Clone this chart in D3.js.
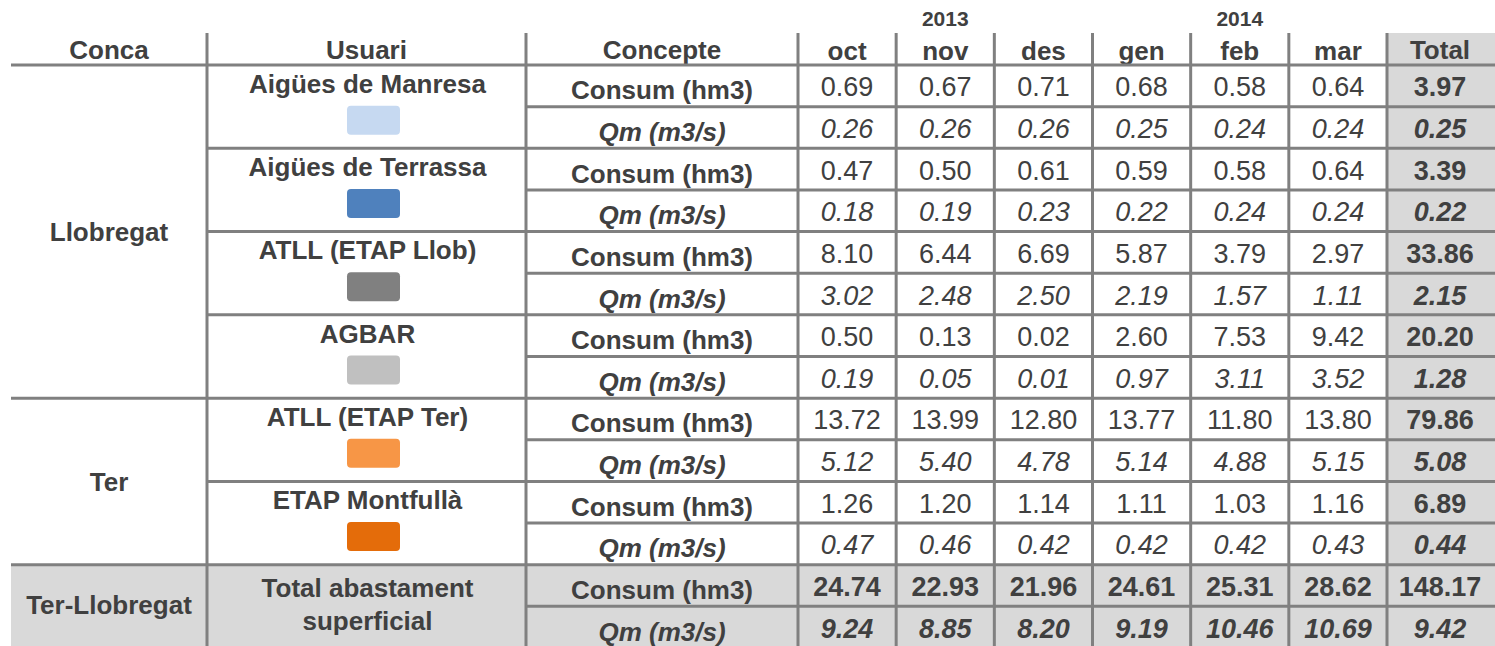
<!DOCTYPE html>
<html>
<head>
<meta charset="utf-8">
<script src="https://cdn.jsdelivr.net/npm/d3@7"></script>
<style>
  html, body { margin: 0; padding: 0; background: #ffffff; }
  svg { display: block; }
  text { font-family: "Liberation Sans", Arial, sans-serif; fill: #404040; }
</style>
</head>
<body>
<svg id="chart" width="1495" height="646"></svg>
<script>
// ---------- DATA ----------
const months = ["oct", "nov", "des", "gen", "feb", "mar"];
const years = [{ label: "2013", month: "nov" }, { label: "2014", month: "feb" }];
const conques = ["Llobregat", "Ter"];
const conquaUsers = [4, 2];
const usuaris = ["Aigües de Manresa", "Aigües de Terrassa", "ATLL (ETAP Llob)", "AGBAR", "ATLL (ETAP Ter)", "ETAP Montfullà"];
const usuariColors = ["#c6d9f1", "#4f81bd", "#808080", "#c0c0c0", "#f79646", "#e46c0a"];
const conceptes = ["Consum (hm3)", "Qm (m3/s)"];

const consum = [
  [0.69, 0.67, 0.71, 0.68, 0.58, 0.64],
  [0.47, 0.50, 0.61, 0.59, 0.58, 0.64],
  [8.10, 6.44, 6.69, 5.87, 3.79, 2.97],
  [0.50, 0.13, 0.02, 2.60, 7.53, 9.42],
  [13.72, 13.99, 12.80, 13.77, 11.80, 13.80],
  [1.26, 1.20, 1.14, 1.11, 1.03, 1.16]
];
const consumTotal = [3.97, 3.39, 33.86, 20.20, 79.86, 6.89];
const qm = [
  [0.26, 0.26, 0.26, 0.25, 0.24, 0.24],
  [0.18, 0.19, 0.23, 0.22, 0.24, 0.24],
  [3.02, 2.48, 2.50, 2.19, 1.57, 1.11],
  [0.19, 0.05, 0.01, 0.97, 3.11, 3.52],
  [5.12, 5.40, 4.78, 5.14, 4.88, 5.15],
  [0.47, 0.46, 0.42, 0.42, 0.42, 0.43]
];
const qmTotal = [0.25, 0.22, 2.15, 1.28, 5.08, 0.44];

const totalConca = "Ter-Llobregat";
const totalUsuari = ["Total abastament", "superficial"];
const totalConsum = [24.74, 22.93, 21.96, 24.61, 25.31, 28.62];
const totalConsumAll = 148.17;
const totalQm = [9.24, 8.85, 8.20, 9.19, 10.46, 10.69];
const totalQmAll = 9.42;

// ---------- LAYOUT ----------
const W = 1495, H = 646;
const svg = d3.select("#chart");
const fmt = d3.format(".2f");
const lineColor = "#808080";
const grayFill = "#d9d9d9";

const xLeft = 11, xUsuari = 207, xConcepte = 526, xRight = 1495;
const xMonth = d3.scaleBand().domain(months).range([798, 1387]);
const xTotal0 = 1387, xTotal1 = 1493;
const nRows = usuaris.length * 2 + 2;
const y = d3.scaleBand().domain(d3.range(nRows)).range([65, 648]);
const headerTop = 33, headerBottom = 65;

const labelSize = 26, numSize = 27;

// backgrounds
svg.append("rect").attr("x", xTotal0).attr("y", headerTop)
  .attr("width", xRight - xTotal0).attr("height", y(nRows - 2) - headerTop).attr("fill", grayFill);
svg.append("rect").attr("x", xLeft).attr("y", y(nRows - 2))
  .attr("width", xRight - xLeft).attr("height", y.bandwidth() * 2).attr("fill", grayFill);

// ---------- HEADER ----------
const hdrBase = 58.5;
function txt(g, x, yy, s, size, weight, style, anchor) {
  return g.append("text").attr("x", x).attr("y", yy).attr("text-anchor", anchor || "middle")
    .attr("font-size", size).attr("font-weight", weight || "normal")
    .attr("font-style", style || "normal").text(s);
}
const gH = svg.append("g");
txt(gH, (xLeft + xUsuari) / 2, hdrBase, "Conca", labelSize, "bold");
txt(gH, (xUsuari + xConcepte) / 2, hdrBase, "Usuari", labelSize, "bold");
txt(gH, (xConcepte + xMonth.range()[0]) / 2, hdrBase, "Concepte", labelSize, "bold");
months.forEach(m => txt(gH, xMonth(m) + xMonth.bandwidth() / 2, hdrBase + 1, m, labelSize, "bold"));
txt(gH, (xTotal0 + xTotal1) / 2, hdrBase, "Total", labelSize, "bold");
years.forEach(yr => txt(gH, xMonth(yr.month) + xMonth.bandwidth() / 2, 26, yr.label, 21, "bold"));

// ---------- BODY ----------
const gB = svg.append("g");
let rowStart = 0;
conques.forEach((c, ci) => {
  const nU = conquaUsers[ci];
  const top = y(rowStart), bot = y(rowStart + nU * 2 - 1) + y.bandwidth();
  txt(gB, (xLeft + xUsuari) / 2, (top + bot) / 2 + 9.5, c, labelSize, "bold");
  rowStart += nU * 2;
});

usuaris.forEach((u, ui) => {
  const r0 = ui * 2, r1 = ui * 2 + 1;
  const cx = (xUsuari + xConcepte) / 2;
  const c0 = y(r0) + y.bandwidth() / 2;
  txt(gB, cx + 1, c0 + 7, u, labelSize, "bold");
  gB.append("rect").attr("x", cx + 7 - 26.5).attr("y", y(r1) - 1)
    .attr("width", 53).attr("height", 29).attr("rx", 4).attr("fill", usuariColors[ui]);
  [consum[ui], qm[ui]].forEach((vals, k) => {
    const r = k === 0 ? r0 : r1;
    const cy = y(r) + y.bandwidth() / 2;
    const st = k === 0 ? "normal" : "italic";
    txt(gB, (xConcepte + xMonth.range()[0]) / 2, cy + 13.5, conceptes[k], labelSize, "bold", st);
    months.forEach((m, mi) => txt(gB, xMonth(m) + xMonth.bandwidth() / 2, cy + 10.5, fmt(vals[mi]), numSize, "normal", st));
    const tot = k === 0 ? consumTotal[ui] : qmTotal[ui];
    txt(gB, (xTotal0 + xTotal1) / 2, cy + 10.5, fmt(tot), numSize, "bold", st);
  });
});

// total rows
{
  const r0 = nRows - 2, r1 = nRows - 1;
  const mid = y(r1);
  txt(gB, (xLeft + xUsuari) / 2, mid + 7.5, totalConca, labelSize, "bold");
  txt(gB, (xUsuari + xConcepte) / 2 + 1, mid - 9, totalUsuari[0], labelSize, "bold");
  txt(gB, (xUsuari + xConcepte) / 2 + 1, mid + 24, totalUsuari[1], labelSize, "bold");
  [[totalConsum, totalConsumAll], [totalQm, totalQmAll]].forEach(([vals, all], k) => {
    const r = k === 0 ? r0 : r1;
    const cy = y(r) + y.bandwidth() / 2;
    const st = k === 0 ? "normal" : "italic";
    txt(gB, (xConcepte + xMonth.range()[0]) / 2, cy + 13.5, conceptes[k], labelSize, "bold", st);
    months.forEach((m, mi) => txt(gB, xMonth(m) + xMonth.bandwidth() / 2, cy + 10.5, fmt(vals[mi]), numSize, "bold", st));
    txt(gB, (xTotal0 + xTotal1) / 2, cy + 10.5, fmt(all), numSize, "bold", st);
  });
}

// ---------- GRID LINES ----------
const gL = svg.append("g").attr("stroke", lineColor).attr("stroke-width", 3);
function hline(x0, x1, yy) { gL.append("line").attr("x1", x0).attr("x2", x1).attr("y1", yy).attr("y2", yy); }
function vline(xx, y0, y1) { gL.append("line").attr("x1", xx).attr("x2", xx).attr("y1", y0).attr("y2", y1); }

hline(xLeft, xRight, headerBottom);
for (let r = 1; r < nRows; r++) {
  const yy = y(r);
  if (r === 8 || r === 12) hline(xLeft, xRight, yy);
  else if (r % 2 === 0) hline(xUsuari, xRight, yy);
  else hline(xConcepte, xRight, yy);
}
hline(xLeft, xRight, y(nRows - 1) + y.bandwidth());
const vx = [xUsuari, xConcepte].concat(months.map(m => xMonth(m))).concat([xTotal0]);
vx.forEach(xx => vline(xx, headerTop, H + 5));
</script>
</body>
</html>
